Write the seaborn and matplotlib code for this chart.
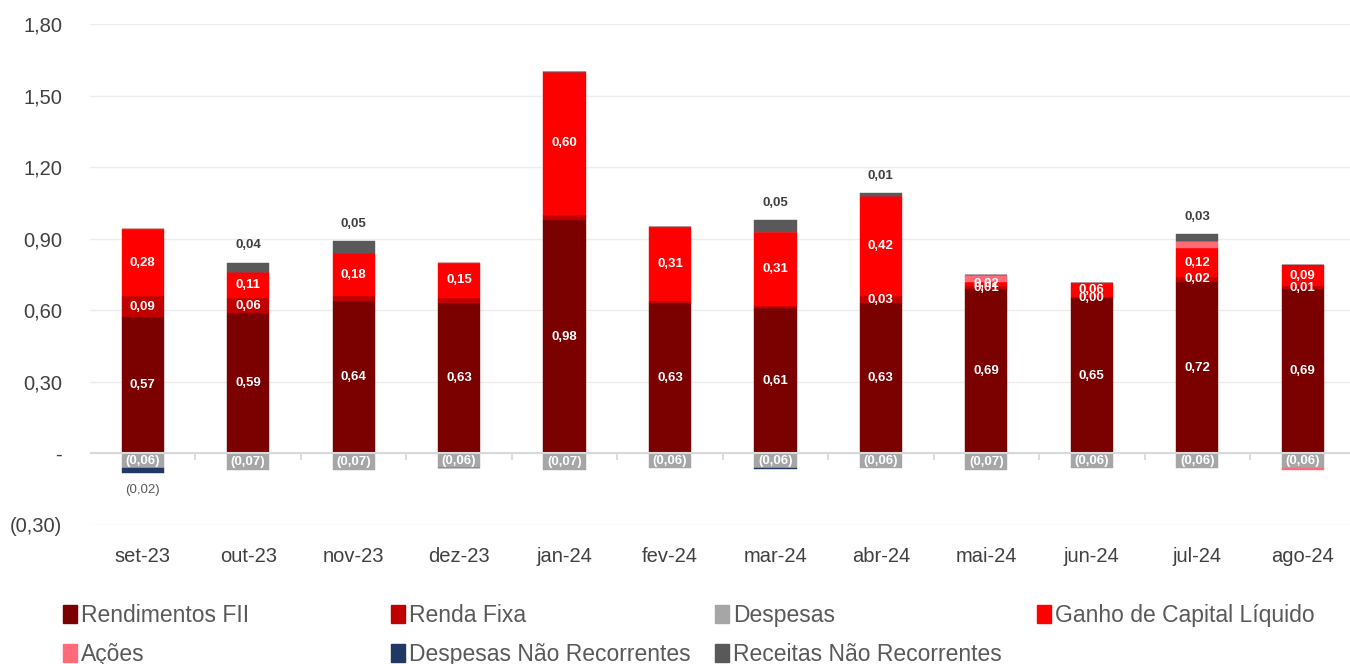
import matplotlib
matplotlib.use("Agg")
import matplotlib.pyplot as plt
from matplotlib.patches import Patch
from matplotlib.ticker import FuncFormatter
import seaborn as sns
import numpy as np
import pandas as pd

sns.set_style("white")
plt.rcParams['font.family'] = ['Liberation Sans', 'DejaVu Sans']

months = ["set-23", "out-23", "nov-23", "dez-23", "jan-24", "fev-24",
          "mar-24", "abr-24", "mai-24", "jun-24", "jul-24", "ago-24"]

rendimentos_fii = [0.57, 0.59, 0.64, 0.63, 0.98, 0.63, 0.61, 0.63, 0.69, 0.65, 0.72, 0.69]
renda_fixa = [0.09, 0.06, 0.02, 0.02, 0.02, 0.01, 0.01, 0.03, 0.01, 0.004, 0.02, 0.01]
despesas = [-0.06, -0.07, -0.07, -0.06, -0.07, -0.06, -0.06, -0.06, -0.07, -0.06, -0.06, -0.06]
ganho_capital = [0.28, 0.11, 0.18, 0.15, 0.60, 0.31, 0.31, 0.42, 0.02, 0.06, 0.12, 0.09]
acoes = [0.0, 0.0, 0.0, 0.0, 0.0, 0.0, 0.0, 0.0, 0.03, 0.0, 0.03, -0.01]
despesas_nr = [-0.02, 0.0, 0.0, -0.003, 0.0, 0.0, -0.005, 0.0, 0.0, 0.0, 0.0, 0.0]
receitas_nr = [0.0, 0.04, 0.05, 0.0, 0.0, 0.0, 0.05, 0.01, 0.0, 0.0, 0.03, 0.0]

# data labels removed by hand in the original for some Renda Fixa bars
rf_label_shown = [True, True, False, False, False, False, False, True, True, True, True, True]

series = [
    ("Rendimentos FII", rendimentos_fii, "#7B0000"),
    ("Renda Fixa", renda_fixa, "#C00000"),
    ("Despesas", despesas, "#A6A6A6"),
    ("Ganho de Capital Líquido", ganho_capital, "#FF0000"),
    ("Ações", acoes, "#FF6B78"),
    ("Despesas Não Recorrentes", despesas_nr, "#1F3864"),
    ("Receitas Não Recorrentes", receitas_nr, "#595959"),
]


def fmt(v):
    s = f"{abs(v):.2f}".replace(".", ",")
    return f"({s})" if v < 0 else s


fig = plt.figure(figsize=(13.5, 6.64), dpi=100)
ax = fig.add_axes([90 / 1350, 1 - 525 / 664, 1 - 90 / 1350, (525 - 24) / 664])

pos_base = np.zeros(len(months))
neg_base = np.zeros(len(months))
bottoms = {}
for name, vals, color in series:
    v = np.array(vals)
    bottom = np.where(v >= 0, pos_base, neg_base)
    bottoms[name] = bottom
    df = pd.DataFrame({"mes": months, "valor": v})
    sns.barplot(data=df, x="mes", y="valor", color=color, width=0.4,
                bottom=bottom, saturation=1, edgecolor=color, linewidth=0.3,
                ax=ax)
    pos_base = pos_base + np.where(v > 0, v, 0)
    neg_base = neg_base + np.where(v < 0, v, 0)

x = np.arange(len(months))
lab_kw = dict(ha="center", va="center", fontsize=9.5, fontweight="bold", color="white")

for i in x:
    # inside labels
    b = bottoms["Rendimentos FII"][i]
    ax.text(i, b + rendimentos_fii[i] / 2, fmt(rendimentos_fii[i]), **lab_kw)
    if rf_label_shown[i]:
        b = bottoms["Renda Fixa"][i]
        ax.text(i, b + renda_fixa[i] / 2, fmt(renda_fixa[i]), **lab_kw)
    b = bottoms["Ganho de Capital Líquido"][i]
    ax.text(i, b + ganho_capital[i] / 2, fmt(ganho_capital[i]), **lab_kw)
    ax.text(i, despesas[i] / 2, fmt(despesas[i]), **lab_kw)
    # receitas on top of the bar
    if receitas_nr[i] > 0:
        ax.annotate(fmt(receitas_nr[i]), (i, pos_base[i]), xytext=(0, 8),
                    textcoords="offset points", ha="center", va="bottom",
                    fontsize=9.5, fontweight="bold", color="#404040")
    if despesas_nr[i] <= -0.01:
        ax.annotate(fmt(despesas_nr[i]), (i, neg_base[i]), xytext=(0, -8),
                    textcoords="offset points", ha="center", va="top",
                    fontsize=9.5, color="#595959")

# axes styling
ax.set_xlim(-0.5, -0.5 + (1350 - 90) / 105.45)
ax.set_ylim(-0.30, 1.80)
ax.set_yticks(np.arange(-0.30, 1.81, 0.30))
ax.yaxis.set_major_formatter(FuncFormatter(
    lambda v, p: "-" if abs(v) < 1e-9 else fmt(round(v, 2))))
ax.set_xlabel("")
ax.set_ylabel("")
ax.grid(True, axis="y", color="#EDEDED", linewidth=1)
ax.set_axisbelow(True)
for s in ax.spines.values():
    s.set_visible(False)
ax.axhline(0, color="#D9D9D9", linewidth=1.5, zorder=1.5)
# category separators hanging under the zero line
ax.vlines(x[:-1] + 0.5, -0.028, 0, color="#D9D9D9", linewidth=1.3, zorder=1.5)
ax.tick_params(axis="y", length=0, labelsize=14.5, labelcolor="#404040", pad=20)
ax.tick_params(axis="x", length=0, labelsize=14.5, labelcolor="#404040", pad=16)

# legend laid out in four columns like the original
handles = {name: Patch(facecolor=c, edgecolor=c) for name, _, c in series}
columns = [["Rendimentos FII", "Ações"],
           ["Renda Fixa", "Despesas Não Recorrentes"],
           ["Despesas", "Receitas Não Recorrentes"],
           ["Ganho de Capital Líquido"]]
col_x = [63, 391, 715, 1037]
for cx, names in zip(col_x, columns):
    leg = fig.legend([handles[n] for n in names], names, loc="upper left",
                     bbox_to_anchor=(cx / 1350, 1 - 604 / 664), frameon=False,
                     handlelength=0.6, handleheight=0.85, handletextpad=0.2,
                     labelspacing=0.7, borderaxespad=0, borderpad=0,
                     prop={"size": 16.5})
    for t in leg.get_texts():
        t.set_color("#595959")

fig.savefig("out.png", dpi=100)
